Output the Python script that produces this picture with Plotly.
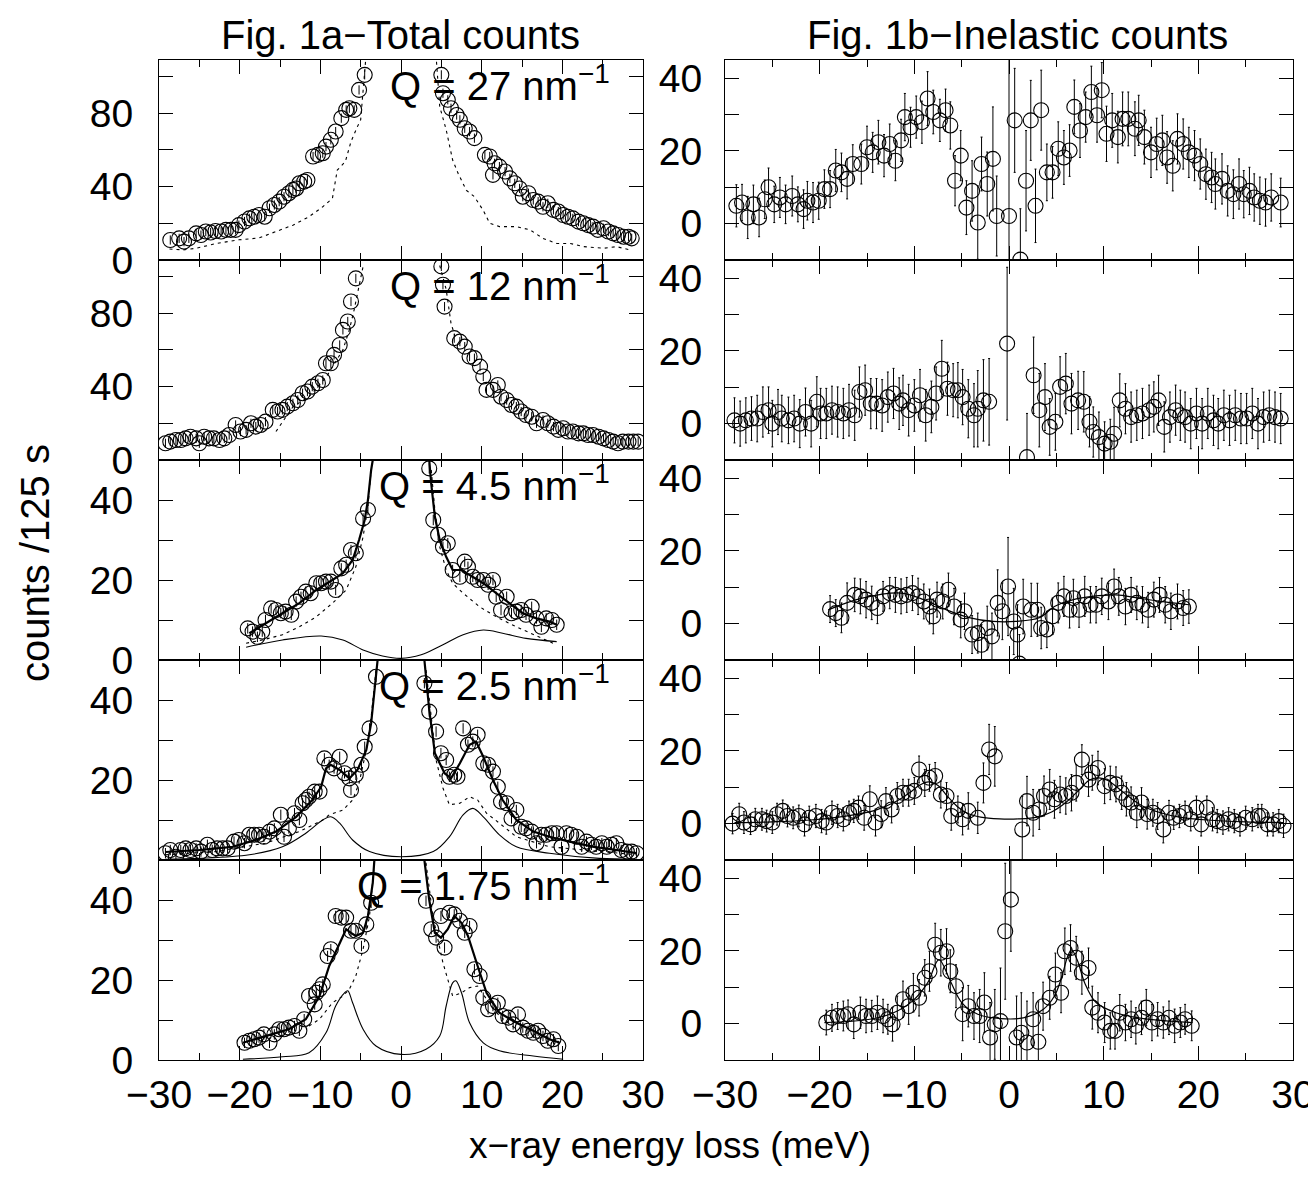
import plotly.graph_objects as go
from plotly.subplots import make_subplots

# ===== DATA =====
# --- Fig. 1a, total counts ---
tot27_x = [-28.6, -27.5, -26.9, -26.3, -25.4, -24.8, -24.2, -23.6, -23.0, -22.3,
           -21.7, -21.1, -20.5, -20.1, -19.4, -18.8, -18.2, -17.6, -16.9, -16.3,
           -15.7, -15.1, -14.5, -13.9, -13.4, -13.0, -12.6, -12.0, -11.6, -10.9,
           -10.3, -9.7, -9.3, -8.7, -8.1, -7.4, -6.8, -6.4, -5.8, -5.2, -4.5,
           5.0, 5.2, 5.8, 6.2, 6.9, 7.3, 7.9, 8.5, 9.1, 10.4,
           11.0, 11.4, 11.6, 12.2, 12.9, 13.5, 14.1, 14.7, 15.1, 15.8,
           16.4, 17.0, 17.6, 18.2, 18.9, 19.5, 20.1, 20.7, 21.3, 22.0,
           22.6, 23.2, 23.8, 24.4, 25.1, 25.7, 26.3, 26.9, 27.6, 28.2, 28.6]
tot27_y = [10.9, 11.8, 10.0, 11.8, 14.5, 13.6, 15.5, 15.0, 15.8, 15.5,
           16.4, 16.4, 16.4, 19.0, 21.0, 22.7, 23.6, 24.5, 23.6, 28.2,
           30.0, 31.8, 34.5, 36.4, 38.2, 39.0, 41.8, 42.7, 43.6, 56.4,
           57.3, 58.2, 61.8, 65.5, 70.0, 77.3, 81.8, 82.7, 81.8, 92.7, 100.9,
           100.9, 90.9, 87.3, 82.7, 79.0, 76.4, 71.8, 70.0, 66.4, 57.3,
           56.4, 46.4, 52.7, 50.9, 48.2, 44.5, 41.8, 39.0, 34.5, 36.4,
           32.7, 31.8, 29.0, 30.9, 27.3, 26.4, 24.5, 23.6, 22.7, 20.9,
           20.0, 19.0, 18.2, 16.4, 17.3, 15.5, 14.5, 13.6, 12.7, 12.7, 11.8]
tot27_res_x = [-28.7, -27.0, -25.4, -22.9, -20.1, -17.6, -15.5, -13.4, -11.4, -9.7,
               -8.5, -7.9, -6.9, -6.2, -5.4, -5.0, -4.8, -4.4, None,
               4.4, 4.8, 5.6, 6.4, 7.1, 8.1, 9.1, 10.2, 11.0, 12.2,
               14.3, 16.0, 17.6, 19.3, 21.0, 22.6, 25.1, 26.7, 28.4]
tot27_res_y = [6.0, 5.5, 6.4, 9.0, 11.0, 12.0, 15.5, 19.0, 23.6, 29.0,
               33.6, 49.0, 53.6, 64.5, 72.7, 76.4, 87.0, 108.0, None,
               108.0, 83.6, 71.0, 54.5, 47.0, 38.0, 34.5, 27.0, 20.0, 18.2,
               18.2, 16.4, 11.8, 9.0, 9.0, 7.3, 6.4, 7.3, 5.5]

tot12_x = [-29.2, -28.6, -27.9, -27.3, -26.7, -26.1, -25.4, -25.0, -24.4, -23.8,
           -23.2, -22.5, -21.9, -21.3, -20.5, -19.9, -19.2, -18.6, -18.0, -17.4,
           -16.8, -15.9, -15.3, -14.7, -14.1, -13.4, -12.8, -12.2, -11.6, -11.0,
           -10.3, -9.7, -9.3, -8.7, -8.3, -7.6, -7.2, -6.6, -6.2, -5.6,
           5.0, 5.2, 5.4, 6.6, 7.3, 7.9, 8.5, 9.1, 9.8, 10.2,
           10.6, 11.4, 12.0, 12.4, 13.1, 13.7, 14.3, 14.9, 15.5, 16.2,
           16.8, 17.6, 18.2, 18.9, 19.5, 20.1, 20.7, 21.3, 22.0, 22.6,
           23.2, 23.8, 24.5, 25.1, 25.7, 26.3, 26.9, 27.5, 28.2, 28.8, 29.4]
tot12_y = [9.1, 10.0, 10.9, 10.9, 11.8, 12.7, 11.8, 9.1, 12.7, 11.8,
           11.8, 10.9, 11.8, 13.6, 19.1, 15.5, 16.4, 20.0, 18.2, 19.1,
           20.9, 27.3, 26.4, 27.3, 29.1, 30.9, 32.7, 36.4, 37.3, 40.0,
           41.8, 43.6, 52.7, 52.7, 57.3, 62.7, 70.9, 75.5, 86.4, 99.0,
           105.5, 95.5, 83.6, 66.4, 64.5, 61.8, 56.4, 55.5, 50.9, 45.5,
           38.2, 38.2, 40.9, 34.5, 32.7, 30.0, 29.1, 26.4, 24.5, 23.6,
           20.0, 21.8, 20.0, 18.2, 16.4, 17.3, 15.5, 15.5, 14.5, 14.5,
           13.6, 13.6, 12.7, 11.8, 10.9, 10.0, 9.1, 10.0, 10.0, 10.0, 10.0]
tot12_res_x = [-15.5, -13.4, -11.4, -9.3, -7.2, -6.4, -5.8, -5.2, -4.7, None,
               4.8, 5.6, 6.2, 6.8]
tot12_res_y = [15.5, 29.0, 34.5, 45.0, 60.0, 71.0, 82.0, 96.0, 105.5, None,
               106.0, 93.0, 74.5, 66.0]

tot45_x = [-19.0, -18.4, -17.8, -17.2, -16.8, -16.1, -15.5, -14.9, -14.3, -13.6,
           -13.0, -12.4, -11.8, -11.2, -10.5, -9.9, -9.3, -8.7, -8.1, -7.4,
           -6.8, -6.2, -5.6, -4.7, -4.1,
           3.5, 4.0, 4.6, 5.2, 5.8, 6.4, 7.3, 7.9, 8.3, 8.9,
           9.5, 10.2, 10.8, 11.4, 11.8, 12.4, 13.1, 13.7, 14.3, 14.9,
           15.5, 16.2, 16.8, 17.4, 18.0, 18.7, 19.3]
tot45_y = [7.9, 7.1, 5.8, 7.1, 10.0, 12.9, 12.5, 11.7, 12.1, 11.3,
           14.6, 15.8, 17.1, 16.7, 19.2, 19.2, 19.6, 19.6, 17.5, 22.9,
           23.8, 27.5, 26.7, 35.4, 37.5,
           47.9, 35.0, 31.3, 28.3, 29.2, 22.5, 20.8, 24.6, 23.3, 20.8,
           20.0, 20.0, 18.8, 20.0, 15.8, 12.5, 15.8, 11.7, 12.1, 12.5,
           11.3, 13.3, 10.4, 8.3, 10.4, 10.0, 8.8]
tot45_fit_x = [-18.8, -16.8, -14.7, -12.6, -10.5, -8.5, -7.2, -6.0, -5.2, -4.5, -4.1, -3.7, -3.5, None,
               3.5, 3.75, 4.2, 4.8, 5.6, 6.4, 7.5, 8.5, 10.2, 11.8, 13.5, 15.1, 16.8, 18.4, 19.3]
tot45_fit_y = [6.7, 9.2, 11.7, 14.2, 17.5, 20.0, 21.7, 25.0, 30.0, 35.0, 40.0, 47.5, 50.0, None,
               50.0, 44.0, 35.8, 30.0, 25.8, 22.5, 22.5, 21.3, 19.2, 16.7, 14.2, 11.7, 10.4, 9.6, 8.8]
tot45_res_x = [-19.2, -17.2, -14.7, -12.6, -10.5, -8.5, -6.8, -5.6, -4.7, -4.1, -3.7, None,
               3.75, 4.2, 4.8, 5.6, 6.4, 7.7, 9.75, 11.8, 14.3, 16.4, 18.4, 19.3]
tot45_res_y = [4.2, 5.0, 6.3, 8.3, 10.8, 14.2, 17.5, 23.3, 30.8, 38.3, 47.5, None,
               47.5, 37.5, 28.3, 22.5, 19.2, 16.7, 13.3, 10.8, 8.3, 6.3, 4.6, 3.8]
tot45_inel_x = [-19.2, -14.7, -9.9, -7.2, -4.7, -2.3, 0.0, 2.5, 5.2, 7.7, 10.2, 12.6, 15.5, 19.3]
tot45_inel_y = [3.2, 5.0, 6.0, 5.0, 2.5, 1.0, 0.4, 1.3, 3.8, 6.3, 7.5, 6.7, 5.4, 4.6]

tot25_x = [-29.2, -28.6, -27.9, -27.3, -26.7, -26.1, -25.4, -24.8, -24.0, -23.4,
           -22.8, -22.1, -21.5, -20.7, -20.1, -19.4, -18.8, -18.2, -17.6, -17.0,
           -16.3, -15.7, -14.9, -14.5, -13.9, -13.2, -12.6, -12.2, -11.8, -11.4,
           -10.7, -10.1, -9.5, -8.9, -8.3, -7.6, -7.0, -6.4, -6.2, -5.6,
           -4.9, -4.5, -3.9, -3.1,
           2.9, 3.5, 4.35, 4.95, 5.6, 6.0, 6.6, 7.0, 7.7, 8.3,
           8.9, 9.5, 10.2, 10.8, 11.4, 12.0, 12.4, 13.1, 13.7, 14.3,
           14.9, 15.5, 16.2, 16.8, 17.4, 18.0, 18.7, 19.3, 19.9, 20.5,
           21.1, 21.8, 22.4, 23.0, 23.6, 24.2, 24.9, 25.5, 26.1, 26.7,
           27.3, 28.0, 28.6, 29.2]
tot25_y = [1.7, 2.5, 0.8, 2.5, 2.9, 2.5, 2.9, 2.1, 3.8, 2.5,
           2.9, 2.9, 2.9, 4.6, 5.0, 4.2, 6.3, 6.3, 6.3, 5.8,
           7.1, 7.9, 11.3, 5.8, 7.9, 11.7, 10.0, 14.2, 15.0, 15.8,
           17.1, 17.1, 25.4, 23.8, 22.9, 25.8, 21.7, 20.4, 17.5, 21.3,
           23.8, 28.3, 32.9, 45.8,
           44.2, 37.1, 32.1, 26.7, 25.0, 20.8, 21.3, 20.8, 32.9, 28.8,
           29.6, 31.3, 24.2, 23.8, 22.1, 18.3, 14.6, 14.2, 10.4, 12.5,
           8.3, 7.9, 7.1, 4.2, 6.3, 6.3, 6.7, 6.7, 3.3, 6.7,
           6.3, 5.8, 3.3, 4.6, 3.8, 3.3, 4.2, 3.3, 3.8, 4.2,
           2.5, 2.1, 2.1, 1.7]
tot25_fit_x = [-29.2, -25.0, -20.9, -18.0, -15.5, -13.0, -11.0, -9.9, -9.3, -8.7,
               -7.6, -6.4, -5.4, -4.3, -3.7, -3.3, -2.9, None,
               2.9, 3.5, 4.2, 4.8, 5.4, 6.2, 7.3, 8.5, 9.3, 10.2,
               11.4, 12.6, 14.3, 16.4, 18.4, 20.9, 23.9, 26.7, 29.2]
tot25_fit_y = [2.0, 2.5, 3.3, 5.0, 7.1, 10.8, 15.0, 18.3, 22.9, 23.8,
               22.5, 20.4, 22.5, 27.5, 34.2, 42.5, 50.0, None,
               50.0, 37.5, 26.7, 24.2, 21.7, 20.4, 24.2, 28.8, 29.6, 25.8,
               20.0, 15.0, 10.0, 7.1, 5.8, 4.6, 3.3, 2.5, 1.7]
tot25_res_x = [-29.2, -23.0, -16.8, -12.6, -10.5, -9.7, -8.9, -7.2, -6.0, -5.2, -4.3, -3.7, -3.1, None,
               3.1, 3.75, 4.35, 5.2, 6.0, 7.3, 8.5, 9.5, 10.6, 12.2, 14.3, 18.4, 22.6, 29.2]
tot25_res_y = [1.3, 2.1, 4.2, 7.1, 9.2, 10.0, 11.3, 12.5, 15.0, 19.2, 27.5, 35.8, 47.5, None,
               47.5, 35.8, 25.0, 18.0, 13.8, 14.2, 15.8, 15.0, 11.7, 9.2, 5.8, 3.3, 2.5, 1.3]
tot25_inel_x = [-29.2, -25.0, -18.8, -14.7, -11.8, -9.7, -8.7, -7.6, -6.0, -3.9, 0.0,
                4.0, 6.0, 7.7, 8.9, 10.2, 12.2, 14.3, 18.4, 24.6, 29.2]
tot25_inel_y = [0.2, 0.4, 1.3, 3.3, 6.7, 10.0, 10.8, 9.2, 5.0, 2.1, 0.8,
                2.1, 5.8, 11.3, 12.9, 10.8, 6.3, 3.3, 1.7, 0.4, 0.2]

tot175_x = [-19.4, -18.8, -18.2, -17.6, -17.0, -16.3, -15.7, -15.1, -14.5, -13.9,
            -13.2, -12.6, -12.0, -11.4, -10.7, -10.5, -10.1, -9.7, -9.1, -8.7,
            -8.1, -7.4, -6.8, -6.2, -5.6, -4.9, -4.3, -3.7,
            3.1, 3.75, 4.35, 4.95, 5.4, 6.0, 6.6, 7.3, 7.9, 8.5,
            9.1, 9.75, 10.2, 10.8, 11.4, 12.0, 12.6, 13.3, 13.9, 14.5,
            15.1, 15.75, 16.4, 17.0, 17.6, 18.2, 18.9, 19.5]
tot175_y = [4.3, 4.8, 5.2, 5.6, 6.4, 4.3, 6.4, 7.7, 7.7, 8.1,
            8.5, 7.3, 10.2, 16.0, 13.9, 16.8, 17.7, 18.9, 26.0, 27.7,
            36.0, 35.6, 35.6, 32.3, 32.3, 28.5, 33.9, 39.3,
            39.8, 32.7, 30.6, 36.0, 28.1, 36.8, 36.4, 34.8, 31.8, 33.5,
            22.7, 21.0, 15.6, 12.7, 13.5, 14.3, 11.0, 10.6, 8.9, 11.4,
            8.1, 7.3, 6.8, 7.3, 6.0, 4.8, 5.2, 3.5]
tot175_fit_x = [-19.6, -16.8, -13.9, -11.8, -10.1, -8.9, -7.6, -6.8, -6.2, -5.6, -4.7, -4.1, -3.5, -3.3, None,
                2.9, 3.5, 4.2, 4.95, 5.8, 6.6, 7.5, 8.3, 9.5, 10.6, 12.2, 14.3, 16.4, 18.4, 19.7]
tot175_fit_y = [4.3, 6.0, 7.7, 10.2, 16.0, 23.5, 29.3, 32.7, 31.8, 31.0, 31.8, 36.0, 44.3, 50.0, None,
                50.0, 40.0, 31.8, 30.6, 32.7, 36.0, 34.3, 31.0, 23.5, 16.8, 11.8, 9.3, 7.3, 5.2, 4.3]
tot175_res_x = [-11.4, -10.1, -8.5, -7.2, -6.4, -5.6, -4.7, -3.9, -3.3, None,
                3.1, 3.95, 5.2, 6.4, 7.5, 8.5, 9.5, 10.6, 12.2, 14.3]
tot175_res_y = [8.5, 10.2, 14.3, 16.0, 17.7, 21.0, 27.7, 36.0, 49.3, None,
                49.3, 36.0, 24.3, 16.0, 16.8, 18.1, 18.5, 15.2, 11.0, 7.7]
tot175_inel_x = [-19.6, -14.7, -11.4, -9.3, -8.1, -7.0, -6.6, -6.0, -4.7, -3.1, 0.0,
                 3.1, 4.8, 5.6, 6.4, 6.8, 7.5, 8.5, 10.2, 12.2, 16.4, 20.1]
tot175_inel_y = [0.2, 0.8, 1.8, 6.8, 13.5, 16.8, 17.3, 14.3, 7.7, 3.5, 1.4,
                 2.7, 6.0, 13.5, 19.3, 19.8, 16.8, 9.3, 4.3, 2.3, 1.0, 0.2]

# --- Fig. 1b, inelastic counts ---
inel27_x = [-28.8, -28.2, -27.6, -27.0, -26.4, -25.8, -25.4, -24.8, -24.2, -23.6,
            -22.9, -22.3, -21.7, -21.3, -20.7, -20.1, -19.5, -18.9, -18.3, -17.7,
            -17.1, -16.5, -15.6, -15.0, -14.4, -13.8, -13.2, -12.6, -12.0, -11.4,
            -11.0, -10.4, -9.8, -9.2, -8.6, -8.0, -7.3, -6.7, -6.2, -5.7,
            -5.1, -4.5, -3.9, -3.3, -2.9, -2.3, -1.7, -1.3, 0.0, 0.6,
            1.2, 1.8, 2.3, 2.8, 3.4, 4.0, 4.6, 5.2, 5.8, 6.4,
            6.9, 7.5, 8.1, 8.7, 9.3, 9.8, 10.3, 10.9, 11.5, 12.0,
            12.6, 13.3, 13.7, 14.3, 15.0, 15.6, 16.2, 16.7, 17.3, 17.8,
            18.4, 19.0, 19.6, 20.2, 20.8, 21.4, 21.8, 22.5, 23.1, 23.7,
            24.3, 24.8, 25.4, 25.9, 26.5, 27.1, 27.7, 28.7]
inel27_y = [4.9, 5.8, 1.7, 5.3, 1.7, 6.7, 10.0, 5.3, 7.2, 5.3,
            7.6, 5.3, 4.0, 6.3, 5.8, 6.3, 9.5, 9.5, 14.6, 14.1,
            12.3, 16.4, 16.4, 21.0, 19.6, 22.4, 18.7, 21.9, 17.3, 22.9,
            29.3, 26.5, 29.3, 27.9, 34.4, 30.7, 28.4, 31.2, 27.0, 11.8,
            18.7, 4.4, 9.0, 0.3, 16.4, 10.9, 17.8, 2.1, 2.1, 28.4,
            -9.9, 11.8, 28.4, 4.9, 31.2, 14.1, 14.1, 20.6, 18.2, 20.1,
            32.1, 25.6, 29.3, 36.2, 29.8, 36.7, 24.7, 28.4, 23.8, 28.8,
            28.8, 26.1, 28.4, 23.8, 19.6, 21.9, 22.9, 18.2, 15.9, 23.3,
            21.9, 19.6, 18.7, 16.4, 13.6, 12.7, 10.9, 12.3, 9.0, 8.1,
            10.9, 8.1, 9.0, 7.2, 6.3, 5.8, 7.2, 5.8]
inel27_err = [5.8, 5.0, 5.8, 5.3, 5.3, 5.3, 5.3, 5.0, 5.5, 5.3,
              5.5, 4.8, 5.3, 5.3, 5.5, 5.1, 5.3, 5.1, 5.8, 5.3,
              5.5, 5.3, 5.5, 5.8, 5.5, 6.0, 5.8, 5.5, 5.5, 5.8,
              6.5, 5.5, 5.8, 5.8, 7.4, 6.0, 5.8, 5.8, 6.5, 6.9,
              6.9, 7.4, 8.3, 10.1, 7.4, 8.8, 14.3, 11.0, 44.0, 14.3,
              14.0, 13.8, 11.0, 10.1, 11.0, 7.8, 7.1, 7.4, 7.4, 7.1,
              7.4, 7.4, 6.9, 7.1, 7.4, 7.6, 7.6, 7.4, 7.1, 7.4,
              7.4, 7.4, 6.9, 7.4, 6.9, 7.1, 6.9, 7.1, 6.9, 6.9,
              6.9, 6.9, 6.9, 6.9, 6.9, 6.9, 6.9, 6.9, 6.9, 6.7,
              6.9, 6.5, 6.5, 6.5, 6.5, 6.5, 6.5, 6.7]

inel12_x = [-29.0, -28.4, -27.8, -27.2, -26.6, -26.0, -25.4, -25.0, -24.4, -24.0,
            -23.3, -22.7, -22.1, -21.5, -20.9, -20.3, -19.9, -19.3, -18.7, -18.1,
            -17.5, -16.9, -16.3, -15.8, -15.2, -14.6, -14.0, -13.4, -12.8, -12.2,
            -11.6, -11.2, -10.6, -10.0, -9.4, -8.8, -8.2, -7.7, -7.1, -6.5,
            -5.9, -5.4, -4.9, -4.3, -3.7, -3.3, -2.7, -2.1, -0.2, 1.9,
            2.6, 3.2, 3.8, 4.3, 4.9, 5.4, 6.0, 6.6, 7.3, 7.9,
            8.5, 8.9, 9.5, 10.1, 10.7, 11.1, 11.7, 12.3, 12.9, 13.5,
            14.1, 14.8, 15.3, 15.8, 16.4, 17.0, 17.6, 18.1, 18.6, 19.2,
            19.8, 20.4, 21.0, 21.6, 22.1, 22.7, 23.3, 23.9, 24.5, 25.1,
            25.7, 26.3, 26.9, 27.5, 28.1, 28.7]
inel12_y = [0.9, 0.0, 0.9, 1.4, 1.4, 3.2, 3.7, 0.0, 3.2, 1.4,
            0.9, 1.4, 0.0, 3.2, 0.0, 6.0, 2.8, 2.8, 3.7, 3.2,
            2.8, 3.7, 2.3, 8.7, 9.2, 5.5, 5.5, 5.0, 7.3, 8.3,
            5.5, 6.4, 3.7, 5.0, 7.8, 2.3, 4.6, 8.3, 15.1, 9.6,
            9.2, 9.2, 7.3, 4.1, 2.3, 4.1, 6.4, 6.0, 22.0, -9.2,
            13.3, 3.7, 7.3, -0.9, 0.5, 10.1, 11.0, 5.5, 6.4, 6.0,
            0.5, -2.3, -3.7, -5.5, -5.0, -2.8, 6.4, 4.1, 1.8, 2.3,
            2.8, 3.7, 4.6, 6.4, -0.9, 1.8, 3.7, 2.3, 1.8, 0.0,
            2.8, 0.0, 2.8, 0.9, 0.0, 2.3, 0.9, 2.3, 1.4, 1.4,
            2.8, 0.0, 1.8, 2.3, 1.8, 1.4]
inel12_err = [6.2, 6.2, 6.2, 6.0, 6.4, 6.9, 6.4, 6.4, 6.2, 6.4,
              6.4, 6.4, 6.6, 6.6, 6.4, 6.9, 6.9, 6.9, 6.6, 6.9,
              6.9, 7.1, 6.9, 6.9, 6.9, 6.9, 6.9, 7.1, 6.9, 6.9,
              7.1, 6.9, 7.1, 7.1, 7.1, 7.1, 7.1, 7.3, 7.8, 7.3,
              7.3, 7.6, 7.6, 8.0, 8.7, 10.5, 11.2, 11.9, 21.0, 12.0,
              10.5, 10.1, 9.2, 7.8, 7.8, 8.3, 8.3, 8.3, 8.0, 8.3,
              6.9, 6.9, 6.9, 6.0, 6.2, 7.3, 7.3, 6.9, 6.9, 6.9,
              6.9, 6.9, 6.9, 6.9, 6.9, 6.9, 6.9, 6.9, 6.9, 6.9,
              6.9, 6.9, 6.9, 6.9, 6.9, 6.9, 6.9, 6.9, 6.9, 6.9,
              6.9, 6.9, 6.9, 6.9, 6.9, 6.9]

inel45_x = [-18.9, -18.3, -17.7, -17.1, -16.3, -15.7, -15.1, -14.5, -13.9, -13.3,
            -12.6, -12.0, -11.4, -10.8, -10.2, -9.6, -9.0, -8.4, -8.0, -7.6,
            -7.0, -6.4, -5.8, -5.1, -4.7, -3.9, -3.3, -2.9, -2.3, -1.8,
            -1.2, -0.7, -0.1, 0.5, 0.9, 1.1, 1.5, 2.35, 3.0, 3.4,
            4.0, 4.6, 5.2, 5.8, 6.4, 6.8, 7.4, 8.0, 8.6, 9.2,
            9.8, 10.5, 11.1, 11.6, 12.3, 12.9, 13.5, 14.1, 14.7, 15.3,
            15.9, 16.5, 17.1, 17.8, 18.4, 19.0]
inel45_y = [4.0, 2.9, 1.6, 5.7, 7.9, 7.5, 6.6, 5.7, 4.3, 7.5,
            8.4, 7.9, 7.5, 7.9, 8.4, 7.5, 6.1, 4.7, 2.0, 6.6,
            6.1, 9.3, 4.7, 1.1, 3.4, -3.0, -2.6, -5.8, -1.2, -3.5,
            5.7, 3.4, 10.2, 0.6, -3.0, -11.0, 4.7, 3.8, 3.8, -1.2,
            -1.6, 2.0, 5.7, 7.5, 3.8, 7.0, 3.8, 7.5, 5.2, 5.2,
            7.5, 6.1, 10.2, 7.5, 4.7, 7.9, 5.7, 5.2, 3.8, 6.6,
            7.9, 5.2, 3.4, 6.1, 4.3, 4.7]
inel45_err = [3.7, 3.7, 4.1, 5.5, 4.6, 4.8, 5.0, 4.6, 4.3, 4.1,
              4.3, 4.8, 4.8, 4.8, 4.8, 5.0, 4.8, 4.8, 4.8, 4.8,
              4.8, 4.6, 5.0, 5.0, 5.0, 5.2, 5.5, 5.5, 6.0, 6.4,
              9.1, 7.8, 13.5, 9.1, 8.2, 8.0, 7.5, 7.3, 7.3, 5.7,
              5.0, 5.0, 5.5, 5.5, 5.0, 5.2, 4.8, 5.5, 5.0, 5.0,
              5.0, 5.0, 4.8, 5.2, 5.0, 4.8, 4.6, 5.0, 4.8, 4.8,
              4.8, 5.0, 5.0, 4.8, 4.8, 4.6]
inel45_fit_x = [-19.1, -15.5, -11.4, -9.0, -6.6, -4.1, -1.7, 0.7, 3.2, 4.8, 6.8, 8.8, 11.3, 13.7, 16.1, 19.0]
inel45_fit_y = [3.8, 7.0, 8.4, 6.6, 3.8, 1.6, 0.6, 0.6, 1.6, 4.7, 6.6, 7.5, 7.9, 7.0, 6.1, 5.2]

inel25_x = [-29.2, -28.5, -28.0, -27.3, -26.8, -26.1, -25.6, -25.0, -24.5, -23.9,
            -23.4, -22.8, -22.2, -21.6, -21.1, -20.4, -19.8, -19.3, -18.7, -18.1,
            -17.5, -16.9, -16.4, -15.9, -15.3, -14.7, -14.1, -13.5, -13.0, -12.4,
            -11.8, -11.2, -10.6, -10.0, -9.5, -8.9, -8.4, -7.8, -7.2, -6.6,
            -6.1, -5.4, -4.9, -4.3, -3.3, -2.7, -2.1, -1.5, 1.4, 1.9,
            2.55, 3.2, 3.7, 4.3, 4.8, 5.4, 6.0, 6.6, 7.1, 7.7,
            8.4, 8.8, 9.4, 10.1, 10.7, 11.3, 11.9, 12.4, 12.9, 13.5,
            14.0, 14.6, 15.2, 15.7, 16.3, 16.9, 17.4, 18.0, 18.6, 19.2,
            19.8, 20.3, 20.9, 21.5, 22.0, 22.6, 23.2, 23.8, 24.4, 25.0,
            25.7, 26.3, 26.7, 27.3, 27.9, 28.5, 29.0]
inel25_y = [0.0, 2.6, 0.3, -0.2, 1.2, 1.2, 0.7, 0.3, 2.6, 3.5,
            2.1, 1.6, 2.1, -0.2, 1.6, 2.1, 0.7, 0.3, 3.0, 2.1,
            1.2, 3.0, 3.5, 4.4, 1.6, 6.7, 0.3, 2.6, 6.2, 3.9,
            7.6, 8.5, 8.5, 9.0, 14.9, 11.2, 12.6, 13.1, 8.0, 7.6,
            2.1, 3.9, 1.2, 3.5, 1.6, 11.2, 20.4, 18.5, -1.6, 6.2,
            3.0, 3.9, 7.6, 9.4, 6.7, 8.0, 7.6, 8.5, 11.2, 17.6,
            12.1, 14.0, 15.3, 10.3, 11.2, 10.8, 8.5, 6.7, 5.8, 3.0,
            5.8, 2.6, 3.0, 2.1, -1.6, 3.0, 1.6, 2.1, 3.0, 1.2,
            4.4, -0.2, 4.4, 1.2, 0.7, 0.3, 1.2, 0.7, -0.2, 1.6,
            1.2, 2.1, 2.1, -0.2, -0.2, 0.7, -0.6]
inel25_err = [2.8, 3.0, 3.0, 2.8, 3.0, 3.0, 3.0, 3.0, 3.0, 3.0,
              3.0, 3.0, 3.0, 3.2, 3.2, 3.2, 3.2, 3.2, 3.2, 3.2,
              3.2, 3.2, 3.2, 3.2, 3.4, 3.7, 3.7, 3.7, 3.7, 3.7,
              3.7, 3.7, 3.7, 3.7, 3.7, 3.7, 3.7, 3.7, 3.7, 3.7,
              3.9, 3.7, 4.3, 5.0, 4.3, 5.5, 6.9, 8.2, 9.1, 6.8,
              6.4, 5.5, 5.5, 5.5, 5.2, 5.0, 5.0, 5.0, 5.0, 4.1,
              4.6, 4.8, 4.6, 4.8, 4.6, 4.8, 4.6, 4.6, 4.3, 4.1,
              4.1, 4.1, 3.7, 3.7, 3.7, 3.4, 3.2, 3.2, 3.2, 3.2,
              3.2, 3.2, 3.2, 3.2, 3.2, 3.2, 3.2, 3.2, 3.2, 3.2,
              3.2, 3.2, 3.2, 3.2, 3.2, 3.2, 3.2]
inel25_fit_x = [-29.0, -25.0, -21.0, -18.0, -16.0, -14.0, -12.0, -10.5, -9.5, -8.5,
                -7.5, -6.5, -5.5, -4.5, -3.0, -1.0, 1.0, 3.0, 4.5, 6.0,
                7.5, 8.5, 9.5, 10.5, 12.0, 14.0, 16.0, 18.0, 21.0, 25.0, 29.0]
inel25_fit_y = [0.3, 0.5, 1.0, 1.8, 2.6, 3.8, 6.0, 8.5, 10.5, 11.5,
                10.5, 7.5, 4.8, 3.0, 1.8, 1.3, 1.3, 1.8, 3.2, 5.8,
                9.5, 12.0, 12.6, 11.8, 8.8, 5.0, 3.0, 1.8, 1.0, 0.5, 0.3]

inel175_x = [-19.3, -18.7, -18.1, -17.5, -17.0, -16.4, -15.7, -15.1, -14.5, -13.9,
             -13.3, -12.8, -12.3, -11.8, -11.2, -10.6, -10.1, -9.5, -8.9, -8.4,
             -7.8, -7.2, -6.6, -6.2, -5.6, -4.9, -4.3, -3.7, -3.1, -2.6,
             -2.0, -1.5, -0.9, -0.4, 0.2, 0.8, 1.3, 1.9, 2.55, 3.1,
             3.6, 4.3, 4.9, 5.5, 5.9, 6.5, 7.1, 7.7, 8.4, 8.8,
             9.4, 10.1, 10.7, 11.2, 11.7, 12.3, 12.9, 13.4, 14.0, 14.5,
             15.1, 15.7, 16.3, 16.9, 17.5, 18.1, 18.6, 19.3]
inel175_y = [0.3, 1.6, 2.1, 2.1, 2.6, -0.2, 3.0, 2.1, 2.1, 3.0,
             2.1, 1.2, -0.2, 3.0, 6.7, 4.8, 8.5, 7.1, 12.6, 14.4,
             21.7, 19.5, 19.9, 14.4, 10.3, 2.6, 4.8, 2.1, 2.1, 5.8,
             -3.8, -0.2, 0.7, 25.4, 34.1, -3.8, -2.5, -5.2, 1.2, -5.0,
             4.8, 7.1, 13.5, 8.5, 19.9, 20.8, 18.1, 14.0, 15.3, 4.4,
             3.0, 0.3, -2.0, -2.0, 3.0, 0.3, 1.2, -0.6, 1.6, 4.4,
             0.3, 1.2, 0.3, 1.6, -0.6, 0.3, 1.2, -0.6]
inel175_err = [3.4, 3.7, 3.7, 4.1, 3.9, 3.9, 4.3, 4.6, 4.3, 4.6,
               4.6, 4.1, 4.6, 4.6, 5.0, 5.0, 5.3, 5.0, 5.0, 5.5,
               5.9, 6.4, 6.2, 5.9, 5.9, 7.3, 5.7, 6.4, 7.3, 8.2,
               9.6, 9.6, 14.6, 18.7, 14.2, 11.4, 11.0, 11.4, 7.3, 11.0,
               6.6, 5.9, 5.9, 5.5, 6.4, 6.4, 5.9, 5.9, 5.5, 5.9,
               5.5, 5.5, 5.0, 5.0, 5.0, 5.0, 5.0, 5.0, 4.6, 5.0,
               5.0, 4.6, 4.3, 4.6, 4.6, 4.1, 4.1, 4.1]
inel175_fit_x = [-19.5, -14.7, -12.2, -10.2, -8.6, -7.4, -6.2, -5.0, -3.3, -0.9, 1.5,
                 3.6, 4.8, 5.6, 6.2, 6.6, 7.2, 8.0, 9.2, 11.3, 13.7, 17.0, 19.4]
inel175_fit_y = [0.3, 1.2, 3.0, 6.2, 11.2, 17.6, 11.7, 5.8, 2.6, 1.4, 1.6,
                 3.9, 7.6, 13.1, 18.5, 20.3, 17.6, 11.2, 5.8, 3.0, 1.6, 0.7, 0.3]

q_labels = ["Q = 27 nm<sup>−1</sup>", "Q = 12 nm<sup>−1</sup>", "Q = 4.5 nm<sup>−1</sup>",
            "Q = 2.5 nm<sup>−1</sup>", "Q = 1.75 nm<sup>−1</sup>"]

# ===== LAYOUT HELPERS =====
# the page body has an 8px margin, so the figure sits at (8, 8) in the window
OFF = 8
W, H = 1308, 1160
FONT = "Liberation Sans, Arial, Helvetica, sans-serif"


def px_x(p):
    return (p - OFF) / W


def px_y(p):
    return 1 - (p - OFF) / H


left_dom = [px_x(159), px_x(643)]
right_dom = [px_x(725), px_x(1293)]
row_tops = [60, 260, 460, 660, 860]

fig = make_subplots(rows=5, cols=2)

total_panels = [
    dict(x=tot27_x, y=tot27_y, res=(tot27_res_x, tot27_res_y), fit=None, inel=None, err=2.5),
    dict(x=tot12_x, y=tot12_y, res=(tot12_res_x, tot12_res_y), fit=None, inel=None, err=2.5),
    dict(x=tot45_x, y=tot45_y, res=(tot45_res_x, tot45_res_y), fit=(tot45_fit_x, tot45_fit_y),
         inel=(tot45_inel_x, tot45_inel_y), err=1.3),
    dict(x=tot25_x, y=tot25_y, res=(tot25_res_x, tot25_res_y), fit=(tot25_fit_x, tot25_fit_y),
         inel=(tot25_inel_x, tot25_inel_y), err=1.3),
    dict(x=tot175_x, y=tot175_y, res=(tot175_res_x, tot175_res_y), fit=(tot175_fit_x, tot175_fit_y),
         inel=(tot175_inel_x, tot175_inel_y), err=1.3),
]
inel_panels = [
    dict(x=inel27_x, y=inel27_y, err=inel27_err, fit=None),
    dict(x=inel12_x, y=inel12_y, err=inel12_err, fit=None),
    dict(x=inel45_x, y=inel45_y, err=inel45_err, fit=(inel45_fit_x, inel45_fit_y)),
    dict(x=inel25_x, y=inel25_y, err=inel25_err, fit=(inel25_fit_x, inel25_fit_y)),
    dict(x=inel175_x, y=inel175_y, err=inel175_err, fit=(inel175_fit_x, inel175_fit_y)),
]

marker = dict(symbol="circle-open", size=15, color="black", line=dict(width=1.1, color="black"))

# ===== left column: total counts =====
for r, p in enumerate(total_panels, start=1):
    fig.add_trace(go.Scatter(x=p["res"][0], y=p["res"][1], mode="lines",
                             line=dict(color="black", width=1.1, dash="3px,4px")), row=r, col=1)
    if p["inel"]:
        fig.add_trace(go.Scatter(x=p["inel"][0], y=p["inel"][1], mode="lines", line_shape="spline",
                                 line=dict(color="black", width=1.1)), row=r, col=1)
    if p["fit"]:
        fig.add_trace(go.Scatter(x=p["fit"][0], y=p["fit"][1], mode="lines",
                                 line=dict(color="black", width=2.2)), row=r, col=1)
    fig.add_trace(go.Scatter(x=p["x"], y=p["y"], mode="markers", marker=marker,
                             error_y=dict(type="constant", value=p["err"], thickness=1,
                                          width=0, color="black")), row=r, col=1)

# ===== right column: inelastic counts =====
for r, p in enumerate(inel_panels, start=1):
    zero_col = "#2e7d32" if r == 3 else "black"
    fig.add_hline(y=0, line=dict(color=zero_col, width=1.2), row=r, col=2)
    if p["fit"]:
        fig.add_trace(go.Scatter(x=p["fit"][0], y=p["fit"][1], mode="lines", line_shape="spline",
                                 line=dict(color="black", width=1.2)), row=r, col=2)
    fig.add_trace(go.Scatter(x=p["x"], y=p["y"], mode="markers", marker=marker,
                             error_y=dict(type="data", array=p["err"], thickness=1,
                                          width=1, color="black")), row=r, col=2)

# ===== axes =====
tick_font = dict(family=FONT, size=39, color="black")
axis_common = dict(showline=True, linecolor="black", linewidth=1.2, mirror="ticks",
                   ticks="inside", tickcolor="black", tickwidth=1.2, ticklen=14,
                   showgrid=False, zeroline=False, tickfont=tick_font, automargin=False)

for r in range(1, 6):
    top = row_tops[r - 1]
    ydom = [px_y(top + 200), px_y(top)]
    for c in (1, 2):
        fig.update_xaxes(axis_common, range=[-30, 30], tickvals=[-30, -20, -10, 0, 10, 20, 30],
                         minor=dict(dtick=5, tick0=0, ticks="inside", ticklen=7,
                                    tickcolor="black", tickwidth=1.2),
                         showticklabels=(r == 5), ticklabelstandoff=0,
                         domain=left_dom if c == 1 else right_dom, row=r, col=c)
    fig.update_yaxes(axis_common, domain=ydom, ticklabelstandoff=17, row=r, col=1)
    fig.update_yaxes(axis_common, domain=ydom, ticklabelstandoff=14, row=r, col=2)
    if r <= 2:
        fig.update_yaxes(range=[0, 109], tickvals=[0, 20, 40, 60, 80, 100],
                         ticktext=["0", "", "40", "", "80", ""], row=r, col=1)
    else:
        fig.update_yaxes(range=[0, 50], tickvals=[0, 10, 20, 30, 40, 50],
                         ticktext=["0", "", "20", "", "40", ""], row=r, col=1)
    fig.update_yaxes(range=[-10, 45], tickvals=[-10, 0, 10, 20, 30, 40],
                     ticktext=["", "0", "", "20", "", "40"], row=r, col=2)

# ===== text =====
ann = []
ann.append(dict(text="Fig. 1a−Total counts", x=px_x(401), y=px_y(35), font_size=40))
ann.append(dict(text="Fig. 1b−Inelastic counts", x=px_x(1017), y=px_y(35), font_size=40))
ann.append(dict(text="counts /125 s", x=px_x(35), y=px_y(563), textangle=-90, font_size=40))
for a in ann:
    size = a.pop("font_size")
    a.update(xref="paper", yref="paper", showarrow=False, xanchor="center", yanchor="middle",
             font=dict(family=FONT, size=size, color="black"))
    fig.add_annotation(a)
fig.add_annotation(text="x−ray energy loss (meV)", xref="paper", yref="paper",
                   x=px_x(670), y=0, xanchor="center", yanchor="bottom", showarrow=False,
                   font=dict(family=FONT, size=37, color="black"))

for i, lab in enumerate(q_labels):
    fig.add_annotation(text=lab, xref="paper", yref="paper", x=px_x(612),
                       y=px_y(row_tops[i] + 50), xanchor="right", yanchor="bottom",
                       showarrow=False, font=dict(family=FONT, size=40, color="black"))

fig.update_layout(width=W, height=H, margin=dict(l=0, r=0, t=0, b=0),
                  paper_bgcolor="white", plot_bgcolor="white", showlegend=False)

fig.write_html("out.html")
